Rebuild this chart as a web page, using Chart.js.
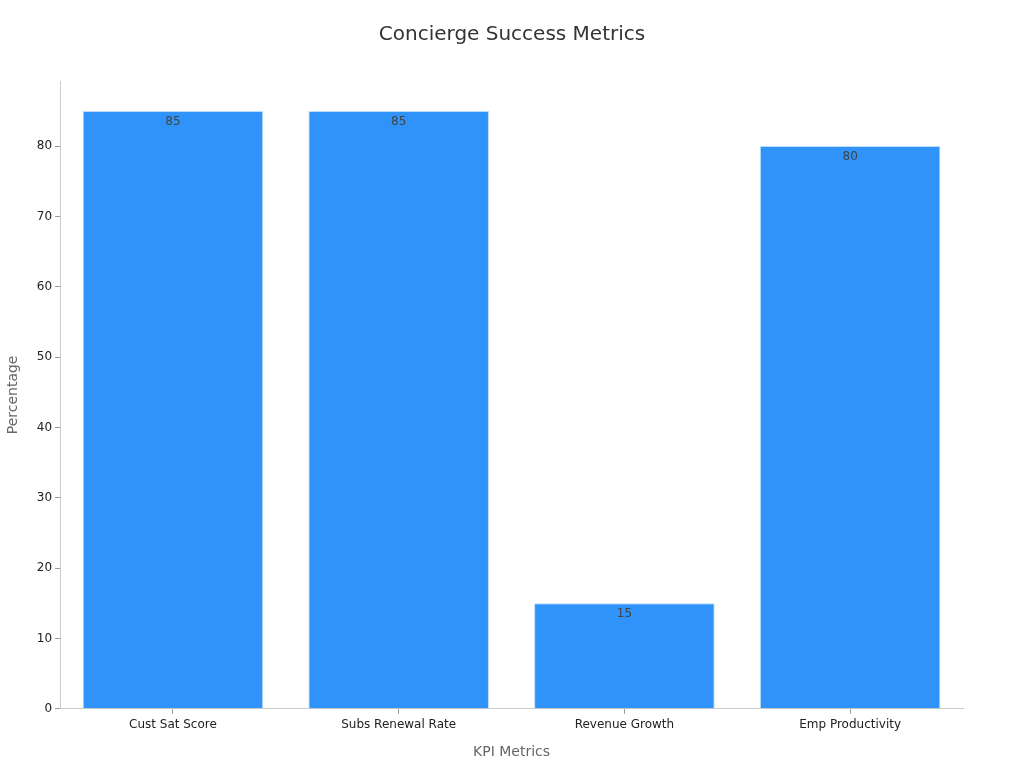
<!DOCTYPE html>
<html>
<head>
<meta charset="utf-8">
<script src="https://cdn.jsdelivr.net/npm/chart.js@4"></script>
<style>
  html, body { margin: 0; padding: 0; background: #fff; }
  #wrap { width: 1024px; height: 768px; }
</style>
</head>
<body>
<div id="wrap"><canvas id="kpiChart" width="1024" height="768"></canvas></div>
<script>
const categories = ['Cust Sat Score', 'Subs Renewal Rate', 'Revenue Growth', 'Emp Productivity'];
const percentages = [85, 85, 15, 80];
const chartTitle = 'Concierge Success Metrics';

// value labels just inside the top of each bar, title centred on the whole canvas
const barLabels = {
  id: 'barLabels',
  afterDatasetsDraw(chart) {
    const ctx = chart.ctx;
    const meta = chart.getDatasetMeta(0);
    ctx.save();
    ctx.font = '12px "DejaVu Sans"';
    ctx.fillStyle = '#444';
    ctx.textAlign = 'center';
    ctx.textBaseline = 'top';
    meta.data.forEach((bar, i) => {
      ctx.fillText(String(percentages[i]), bar.x, bar.y + 5);
    });
    const t = chart.titleBlock;
    ctx.font = '20px "DejaVu Sans"';
    ctx.fillStyle = '#333';
    ctx.textBaseline = 'middle';
    ctx.fillText(chartTitle, chart.width / 2, t.top + 25);
    ctx.restore();
  }
};

Chart.defaults.font.family = '"DejaVu Sans", sans-serif';

new Chart(
  document.getElementById('kpiChart'),
  {
    type: 'bar',
    data: {
      labels: categories,
      datasets: [{
        label: 'Percentage',
        data: percentages,
        backgroundColor: '#2F93F9',
        borderColor: '#BCDDFB',
        borderWidth: 1,
        barPercentage: 0.8,
        categoryPercentage: 1
      }]
    },
    options: {
      responsive: false,
      animation: false,
      layout: { padding: { left: 5, right: 61, top: 10, bottom: 3 } },
      plugins: {
        legend: { display: false },
        tooltip: { enabled: false },
        title: {
          display: true,
          text: chartTitle,
          color: 'rgba(0,0,0,0)',
          font: { size: 20, weight: 'normal' },
          padding: { top: 14, bottom: 33 }
        }
      },
      scales: {
        x: {
          grid: { display: true, offset: false, drawOnChartArea: false, drawTicks: true, tickLength: 5, color: '#999' },
          border: { color: '#ccc' },
          ticks: { color: '#222', font: { size: 12 }, padding: 4 },
          title: {
            display: true,
            text: 'KPI Metrics',
            color: '#666',
            font: { size: 14 },
            padding: { top: 8 }
          }
        },
        y: {
          min: 0,
          max: 89.25,
          grid: { display: true, drawOnChartArea: false, drawTicks: true, tickLength: 5, color: '#999' },
          border: { color: '#ccc' },
          afterBuildTicks(scale) {
            scale.ticks = scale.ticks.filter(t => t.value % 10 === 0);
          },
          ticks: { stepSize: 10, color: '#222', font: { size: 12 }, padding: 3 },
          title: {
            display: true,
            text: 'Percentage',
            color: '#666',
            font: { size: 14 },
            padding: { top: 0, bottom: 12 }
          }
        }
      }
    },
    plugins: [barLabels]
  }
);
</script>
</body>
</html>
